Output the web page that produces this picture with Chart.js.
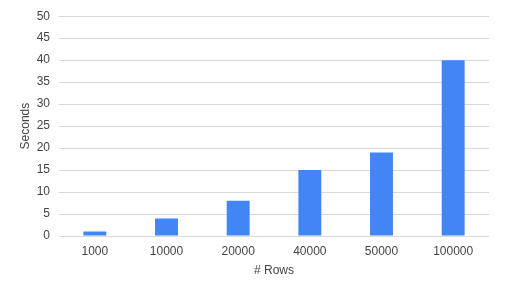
<!DOCTYPE html>
<html>
<head>
<meta charset="utf-8">
<script src="https://cdn.jsdelivr.net/npm/chart.js@4/dist/chart.umd.min.js"></script>
<style>
  html, body { margin: 0; padding: 0; background: #fff; }
  #wrap { width: 505px; height: 294px; }
</style>
</head>
<body>
<div id="wrap"><canvas id="chart"></canvas></div>
<script>
  const rowCounts = ["1000", "10000", "20000", "40000", "50000", "100000"];
  const seconds = [1, 4, 8, 15, 19, 40];

  const BAR_COLOR = "#4285f4";
  const TEXT_COLOR = "#444444";
  const GRID_COLOR = "#d9d9d9";
  const FONT = { family: "Arial, 'Liberation Sans', sans-serif", size: 12 };

  new Chart(document.getElementById("chart"), {
    type: "bar",
    data: {
      labels: rowCounts,
      datasets: [{
        label: "Seconds",
        data: seconds,
        backgroundColor: BAR_COLOR,
        borderWidth: 0,
        barPercentage: 0.32,
        categoryPercentage: 1,
      }],
    },
    options: {
      responsive: true,
      maintainAspectRatio: false,
      animation: false,
      layout: { padding: { top: 14, right: 16, bottom: 0, left: 0 } },
      plugins: {
        legend: { display: false },
        tooltip: { enabled: false },
      },
      scales: {
        x: {
          grid: { display: false, drawTicks: false },
          border: { display: false },
          ticks: { color: TEXT_COLOR, font: FONT, padding: 8, maxRotation: 0 },
          title: { display: true, text: "# Rows", color: TEXT_COLOR, font: FONT, padding: 16 },
          afterFit: (scale) => { scale.height = 58; },
        },
        y: {
          min: 0,
          max: 50,
          grid: { color: GRID_COLOR, drawTicks: false },
          border: { display: false },
          ticks: { stepSize: 5, color: TEXT_COLOR, font: FONT, padding: 9 },
          title: { display: true, text: "Seconds", color: TEXT_COLOR, font: FONT, padding: 18 },
          afterFit: (scale) => { scale.width = 59; },
        },
      },
    },
  });
</script>
</body>
</html>
